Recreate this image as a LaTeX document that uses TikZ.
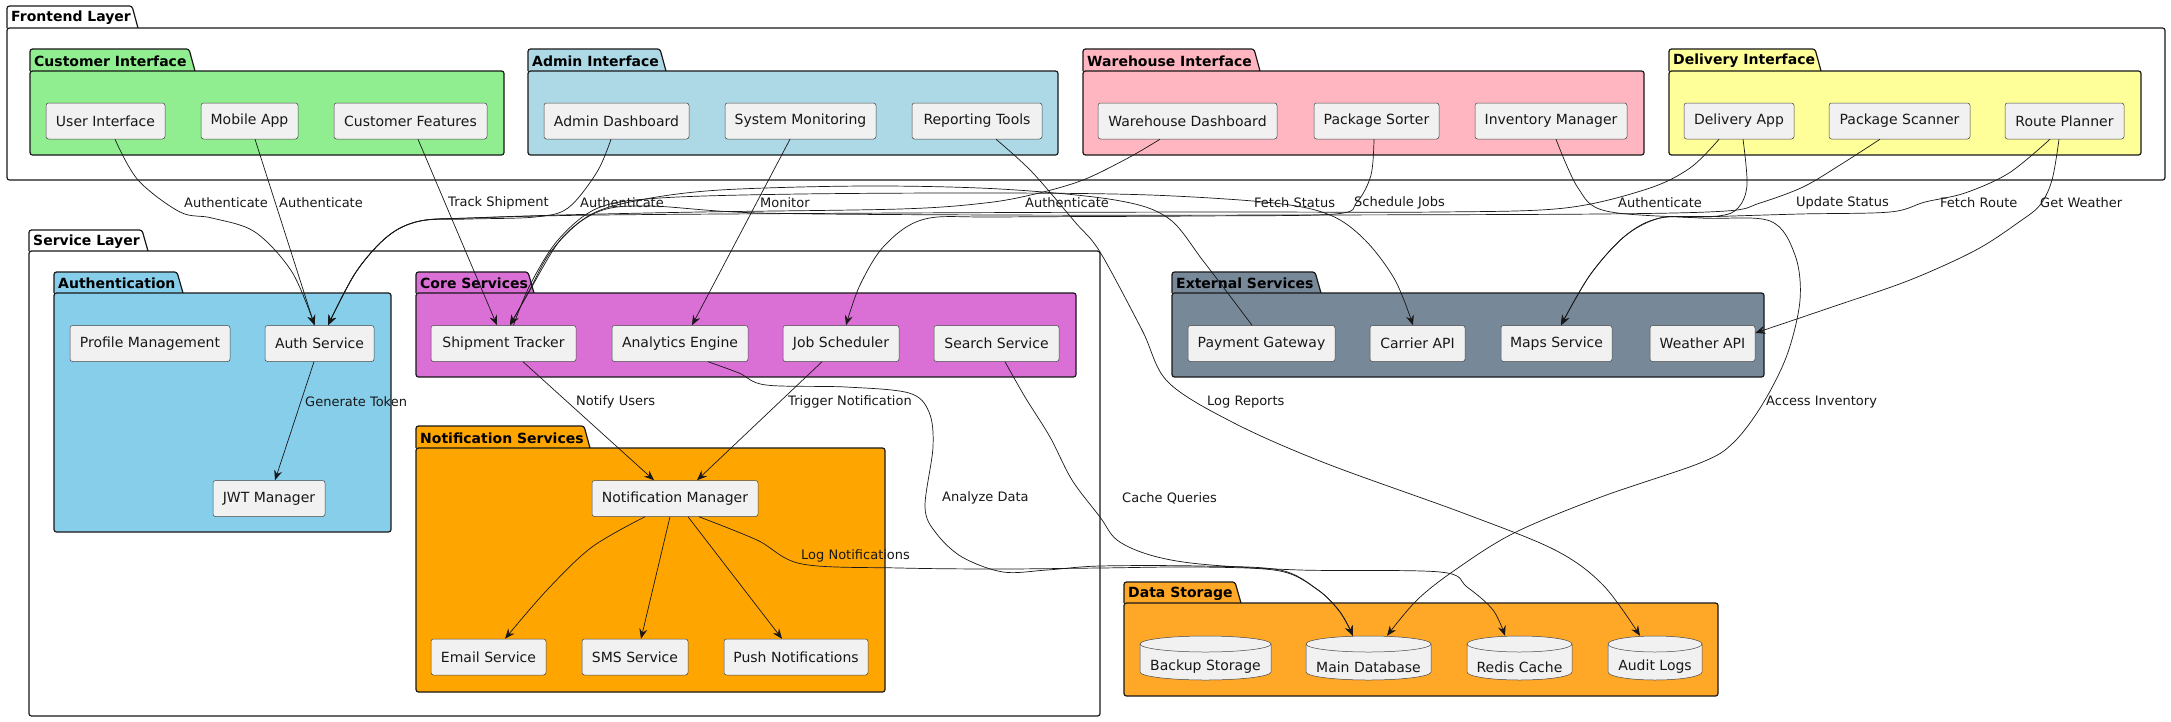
\documentclass[tikz,border=0pt]{standalone}
\usepackage{fontspec}
\setmainfont{DejaVu Sans}
\usetikzlibrary{arrows.meta}
\definecolor{nodefill}{HTML}{F1F1F1}
\definecolor{ink}{HTML}{181818}
\definecolor{custc}{HTML}{90EE90}
\definecolor{adminc}{HTML}{ADD8E6}
\definecolor{wareh}{HTML}{FFB6C1}
\definecolor{deliv}{HTML}{FFFF99}
\definecolor{authc}{HTML}{87CEEB}
\definecolor{corec}{HTML}{DA70D6}
\definecolor{notic}{HTML}{FFA500}
\definecolor{extc}{HTML}{778899}
\definecolor{datac}{HTML}{FFA726}
\tikzset{
 box/.style={rectangle, rounded corners=2.5pt, fill=nodefill, draw=ink!80, line width=0.5pt, minimum height=36, inner sep=0pt, font=\fontsize{14}{16}\selectfont, text=ink},
 lbl/.style={font=\fontsize{13}{15}\selectfont, inner sep=0pt, text=ink, anchor=west},
 ptitle/.style={font=\bfseries\fontsize{14}{16}\selectfont, inner sep=0pt, anchor=west, text=black},
 pline/.style={draw=ink, line width=1.2pt},
 edge/.style={draw=ink, line width=0.7pt, -{Stealth[length=10pt,width=8pt,inset=3.5pt]}},
 cyltext/.style={font=\fontsize{14}{16}\selectfont, inner sep=0pt, text=ink},
}
\newcommand\pkgbox[9]{%
 \filldraw[pline, fill=#8, rounded corners=2.5pt] (#2,#4) -- (#2,#3) -- ({#7-6},#3) -- (#7,#4);
 \filldraw[pline, fill=#8, rounded corners=2.5pt] (#2,#4) rectangle (#5,#6);
 \node[ptitle] (#1) at ({#2+4},{(#3+#4)/2+1}) {#9};
}
\newcommand\dbcyl[5]{%
 \pgfmathsetmacro\cyL{#2-#4/2}%
 \pgfmathsetmacro\cyR{#2+#4/2}%
 \pgfmathsetmacro\cyT{#3-14}%
 \pgfmathsetmacro\cyB{#3+14}%
 \pgfmathsetlengthmacro\cyRx{#4/2}%
 \filldraw[fill=nodefill, draw=ink!80, line width=0.5pt] (\cyL,\cyT) -- (\cyL,\cyB) arc[start angle=180,end angle=360,x radius=\cyRx,y radius=8pt] -- (\cyR,\cyT) arc[start angle=0,end angle=180,x radius=\cyRx,y radius=8pt] -- cycle;
 \draw[draw=ink!80, line width=0.5pt] (\cyL,\cyT) arc[start angle=180,end angle=360,x radius=\cyRx,y radius=8pt];
 \node[minimum width=#4, minimum height=44, inner sep=0pt] (#1) at (#2,#3) {};
 \node[cyltext] (#1-t) at (#2,{#3+9}) {#5};
}
\begin{document}
\begin{tikzpicture}[x=1pt,y=-1pt]
\useasboundingbox (0,0) rectangle (2171,721);
\fill[white] (0,0) rectangle (2171,721);
% packages
\pkgbox{fl}{7}{6}{28}{2165}{180}{138}{white}{Frontend Layer}
\pkgbox{ci}{30}{49}{71}{504}{155}{195}{custc}{Customer Interface}
\pkgbox{ai}{528}{49}{71}{1058}{155}{666}{adminc}{Admin Interface}
\pkgbox{wi}{1083}{49}{71}{1644}{155}{1260}{wareh}{Warehouse Interface}
\pkgbox{di}{1669}{49}{71}{2141}{155}{1821}{deliv}{Delivery Interface}
\pkgbox{sl}{29}{230}{251}{1100}{716}{148}{white}{Service Layer}
\pkgbox{au}{54}{272}{293}{391}{532}{183}{authc}{Authentication}
\pkgbox{cs}{416}{272}{293}{1076}{377}{534}{corec}{Core Services}
\pkgbox{ns}{416}{426}{448}{885}{692}{590}{notic}{Notification Services}
\pkgbox{es}{1172}{272}{293}{1764}{377}{1321}{extc}{External Services}
\pkgbox{ds}{1124}{582}{603}{1718}{696}{1241}{datac}{Data Storage}
% frontend nodes
\node[box, minimum width=119] (ui) at (105.5,121) {User Interface};
\node[box, minimum width=97] (mob) at (249.5,121) {Mobile App};
\node[box, minimum width=153] (cf) at (410.5,121) {Customer Features};
\node[box, minimum width=145] (adm) at (616.5,121) {Admin Dashboard};
\node[box, minimum width=151] (sysmon) at (800.5,121) {System Monitoring};
\node[box, minimum width=130] (rep) at (977,121) {Reporting Tools};
\node[box, minimum width=179] (whd) at (1187.5,121) {Warehouse Dashboard};
\node[box, minimum width=125] (sorter) at (1376.5,121) {Package Sorter};
\node[box, minimum width=152] (inv) at (1551,121) {Inventory Manager};
\node[box, minimum width=110] (dapp) at (1739,121) {Delivery App};
\node[box, minimum width=141] (scan) at (1899.5,121) {Package Scanner};
\node[box, minimum width=119] (route) at (2064.5,121) {Route Planner};
% service nodes
\node[box, minimum width=160] (prof) at (150,343.5) {Profile Management};
\node[box, minimum width=109] (auth) at (319.5,343.5) {Auth Service};
\node[box, minimum width=145] (ship) at (503.5,343.5) {Shipment Tracker};
\node[box, minimum width=136] (anal) at (680,343.5) {Analytics Engine};
\node[box, minimum width=116] (job) at (841,343.5) {Job Scheduler};
\node[box, minimum width=125] (search) at (996.5,343.5) {Search Service};
\node[box, minimum width=147] (pay) at (1261.5,343.5) {Payment Gateway};
\node[box, minimum width=95] (carrier) at (1417.5,343.5) {Carrier API};
\node[box, minimum width=111] (maps) at (1556.5,343.5) {Maps Service};
\node[box, minimum width=105] (weather) at (1702.5,343.5) {Weather API};
\node[box, minimum width=112] (jwt) at (269,498.5) {JWT Manager};
\node[box, minimum width=166] (notif) at (675,498.5) {Notification Manager};
\node[box, minimum width=115] (email) at (488.5,657) {Email Service};
\node[box, minimum width=106] (sms) at (635,657) {SMS Service};
\node[box, minimum width=144] (push) at (796,657) {Push Notifications};
% databases
\dbcyl{backup}{1205.5}{658}{131}{Backup Storage}
\dbcyl{maindb}{1368.5}{658}{125}{Main Database}
\dbcyl{redis}{1519.5}{658}{105}{Redis Cache}
\dbcyl{audit}{1655}{658}{94}{Audit Logs}
% edges
\draw[edge] plot[smooth,tension=0.55] coordinates {([xshift=9.5pt]ui.south) (138,180) (180,212) (212,218) (255,232) (292,272) ([xshift=-5pt]auth.north)};
\draw[edge] ([xshift=5.5pt]mob.south) -- ([xshift=-5pt]auth.north);
\draw[edge] ([xshift=7.5pt]cf.south) -- ([xshift=-6.5pt]ship.north);
\draw[edge] plot[smooth,tension=0.55] coordinates {([xshift=-5.5pt]adm.south) (597,172) (568,208) (535,217) (470,219) (420,221) (388,236) (356,272) ([xshift=8.5pt]auth.north)};
\draw[edge] ([xshift=-10.5pt]sysmon.south) -- ([xshift=12pt]anal.north);
\draw[edge] plot[smooth,tension=0.55] coordinates {([xshift=19pt]rep.south) (1032,172) (1075,222) (1100,252) (1142,330) (1168,382) (1234,423) (1325,463) (1463,513) (1555,550) (1603,585) ([xshift=-15pt]audit.north)};
\draw[edge] plot[smooth,tension=0.55] coordinates {([xshift=-27.5pt]whd.south) (1128,158) (1083,180) (1035,194) (985,203) (900,209) (700,212) (560,215) (470,218) (420,221) (388,236) (356,272) ([xshift=8.5pt]auth.north)};
\draw[edge] plot[smooth,tension=0.55] coordinates {([xshift=10pt]ship.north) (530,285) (558,240) (598,208) (660,198) (800,194) (1000,193) (1150,195) (1274,203) (1330,215) (1365,240) (1395,280) ([xshift=-4.5pt]carrier.north)};
\draw[edge] plot[smooth,tension=0.55] coordinates {([xshift=-9.5pt]pay.north) (1204,262) (1168,218) (1115,200) (1000,189) (866,186) (720,190) (640,200) (590,215) (552,250) (527,295) ([xshift=6.5pt]ship.north)};
\draw[edge] plot[smooth,tension=0.55] coordinates {([xshift=-2.5pt]sorter.south) (1371,175) (1357,202) (1335,214) (1200,216) (1000,217) (925,219) (885,245) (860,285) ([xshift=5pt]job.north)};
\draw[edge] plot[smooth,tension=0.55] coordinates {([xshift=5pt]inv.south) (1578,188) (1606,211) (1700,218) (1770,221) (1795,255) (1800,300) (1787,355) (1762,405) (1733,443) (1700,463) (1601,497) (1514,533) (1455,570) (1417,600) ([xshift=18.5pt]maindb.north)};
\draw[edge] plot[smooth,tension=0.55] coordinates {([xshift=-20pt]dapp.south) (1690,168) (1647,189) (1565,208) (1440,212) (1200,212) (900,213) (600,215) (470,218) (420,221) (388,236) (356,272) ([xshift=8.5pt]auth.north)};
\draw[edge] plot[smooth,tension=0.55] coordinates {([xshift=4pt]dapp.south) (1747,185) (1738,208) (1718,216) (1660,218) (1625,236) (1590,275) ([xshift=4.5pt]maps.north)};
\draw[edge] plot[smooth,tension=0.55] coordinates {([xshift=-19.5pt]scan.south) (1840,165) (1803,187) (1760,203) (1726,211) (1600,214) (1300,215) (1000,215) (760,213) (650,206) (600,211) (562,238) (530,290) ([xshift=6.5pt]ship.north)};
\draw[edge] plot[smooth,tension=0.55] coordinates {([xshift=-14.5pt]route.south) (2009,173) (1965,193) (1925,202) (1890,212) (1800,214) (1700,217) (1660,218) (1625,236) (1590,275) ([xshift=4.5pt]maps.north)};
\draw[edge] plot[smooth,tension=0.55] coordinates {([xshift=-5.5pt]route.south) (2052,180) (2040,205) (2019,222) (1976,250) (1910,280) (1835,306) ([yshift=10.5pt]weather.east)};
\draw[edge] ([xshift=-5.5pt]auth.south) -- ([xshift=6pt]jwt.north);
\draw[edge] ([xshift=19.5pt]ship.south) -- ([xshift=-21pt]notif.north);
\draw[edge] ([xshift=-19pt]job.south) -- ([xshift=22pt]notif.north);
\draw[edge] plot[smooth,tension=0.55] coordinates {([xshift=28pt]anal.south) (739,373) (766,385) (846,387) (909,393) (929,412) (933,447) (925,507) (936,533) (962,557) (1003,572) (1047,570) (1100,566) (1200,566) (1280,570) (1318,590) (1340,612) ([xshift=-15.5pt]maindb.north)};
\draw[edge] plot[smooth,tension=0.55] coordinates {([xshift=8.5pt]search.south) (1025,397) (1050,437) (1072,480) (1100,517) (1117,540) (1150,555) (1200,564) (1300,570) (1440,572) (1467,587) (1493,610) ([xshift=-14.5pt]redis.north)};
\draw[edge] plot[smooth,tension=0.55] coordinates {([xshift=24pt]notif.south) (757,540) (802,564) (900,568) (1000,569) (1100,568) (1200,567) (1280,571) (1318,590) (1340,612) ([xshift=-15.5pt]maindb.north)};
\draw[edge] plot[smooth,tension=0.55] coordinates {([xshift=-30pt]notif.south) (592,547) (547,590) ([xshift=16.5pt]email.north)};
\draw[edge] ([xshift=-5pt]notif.south) -- ([xshift=6pt]sms.north);
\draw[edge] ([xshift=13pt]notif.south) -- ([xshift=-14pt]push.north);
% edge labels
\node[lbl] (l1) at (184,203) {Authenticate};
\node[lbl] (l2) at (279,203) {Authenticate};
\node[lbl] (l3) at (448,203) {Track Shipment};
\node[lbl] (l4) at (580,203) {Authenticate};
\node[lbl] (l5) at (760,203) {Monitor};
\node[lbl] (l6) at (1025,203) {Authenticate};
\node[lbl] (l7) at (1254,203) {Fetch Status};
\node[lbl] (l8) at (1354,203) {Schedule Jobs};
\node[lbl] (l9) at (1618,203) {Authenticate};
\node[lbl] (l10) at (1796,203) {Update Status};
\node[lbl] (l11) at (1940,203) {Fetch Route};
\node[lbl] (l12) at (2040,203) {Get Weather};
\node[lbl] (l13) at (305,402) {Generate Token};
\node[lbl] (l14) at (576,402) {Notify Users};
\node[lbl] (l15) at (788,402) {Trigger Notification};
\node[lbl] (l16) at (1207,402) {Log Reports};
\node[lbl] (l17) at (1766,402) {Access Inventory};
\node[lbl] (l18) at (942,498) {Analyze Data};
\node[lbl] (l19) at (1122,498) {Cache Queries};
\node[lbl] (l20) at (801,556) {Log Notifications};
\end{tikzpicture}
\end{document}
